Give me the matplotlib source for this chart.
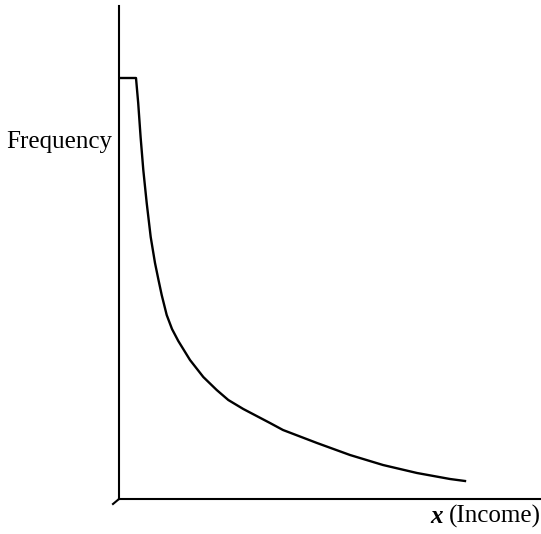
import matplotlib
matplotlib.use("Agg")
import matplotlib.pyplot as plt

# income (arbitrary units) and frequency
income = [2, 17, 19.2, 21.6, 24.3, 27.7, 31.7, 36, 39.5, 42.7, 47.7, 53,
          59.3, 71, 84.3, 97.7, 109.3, 124.3, 151, 164, 198, 231, 264, 298,
          331, 346]
frequency = [421, 421, 396, 362, 329, 296, 262, 236, 219, 204, 184, 170, 158,
             139, 122, 109, 99, 90, 76, 69, 56, 44, 34, 26, 20, 18]

W, H = 541, 534

plt.rcParams['font.family'] = ['Liberation Serif', 'DejaVu Serif']

fig = plt.figure(figsize=(W / 100, H / 100), dpi=100)
ax = fig.add_axes([119 / W, (H - 499) / H, 422 / W, 493 / H])
ax.set_xlim(0, 422)
ax.set_ylim(0, 493)

ax.plot(income, frequency, color='black', lw=1.7, solid_joinstyle='round')
# little stroke below the origin
ax.plot([0, -6], [0, -5], color='black', lw=1.5, clip_on=False)

for side in ['top', 'right']:
    ax.spines[side].set_visible(False)
for side in ['left', 'bottom']:
    ax.spines[side].set_linewidth(1.5)
ax.set_xticks([])
ax.set_yticks([])

fig.text(112 / W, 1 - 142 / H, 'Frequency', ha='right', va='center', fontsize=18)
fig.text(443 / W, 1 - 523 / H, 'x', ha='right', va='baseline', fontsize=18,
         style='italic', weight='bold')
fig.text(541 / W, 1 - 523 / H, '(Income)', ha='right', va='baseline', fontsize=18)

fig.savefig('out.png', dpi=100)
